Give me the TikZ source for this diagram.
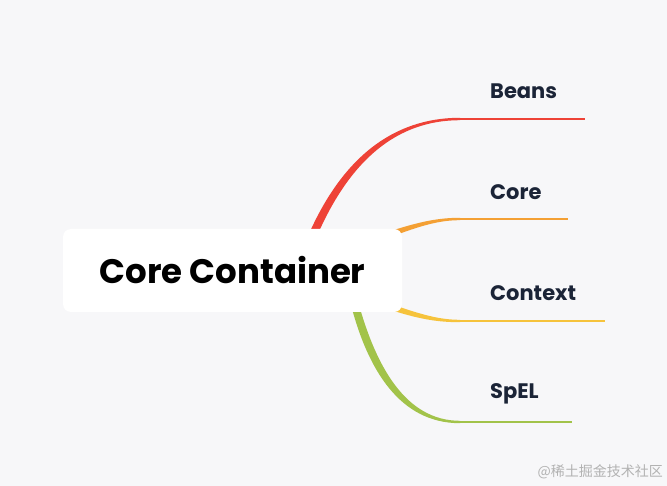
\documentclass[tikz,border=0pt]{standalone}
\usepackage{fontspec}
\newfontfamily\pop{Poppins}
\newfontfamily\cjk{Noto Sans CJK SC}
\definecolor{bg}{HTML}{F7F7F9}
\definecolor{cred}{HTML}{EE4237}
\definecolor{corange}{HTML}{F4A034}
\definecolor{cyellow}{HTML}{F6C33C}
\definecolor{cgreen}{HTML}{A2C34A}
\definecolor{labcol}{HTML}{1B2437}
\begin{document}
\begin{tikzpicture}[x=1pt,y=-1pt,
  lab/.style={anchor=west,inner sep=0pt,text=labcol,font=\pop\bfseries\fontsize{21}{24}\selectfont},
  hline/.style={line width=2.4pt}]
\useasboundingbox[fill=bg] (0,0) rectangle (667,486);
% branch end coordinates
\coordinate (b1) at (460,119);
\coordinate (b1e) at (585,119);
\coordinate (b2) at (460,219);
\coordinate (b2e) at (568,219);
\coordinate (b3) at (460,321);
\coordinate (b3e) at (605,321);
\coordinate (b4) at (460,422);
\coordinate (b4e) at (572,422);
% red
\fill[cred] (308,236) .. controls (342,158) and (393,117.8) .. (460,117.8)
  -- (460,120.2) .. controls (397,120.2) and (350,160) .. (317,236) -- cycle;
\draw[cred,hline] (b1) -- (b1e);
% orange
\fill[corange] (385,233) .. controls (420,221) and (440,217.8) .. (460,217.8)
  -- (460,220.2) .. controls (440,220.2) and (422,225) .. (388,238) -- cycle;
\draw[corange,hline] (b2) -- (b2e);
% yellow
\fill[cyellow] (385,308) .. controls (420,320) and (440,322.2) .. (460,322.2)
  -- (460,319.8) .. controls (440,319.8) and (422,315) .. (388,303) -- cycle;
\draw[cyellow,hline] (b3) -- (b3e);
% green
\fill[cgreen] (351,305) .. controls (368,370) and (400,423.2) .. (460,423.2)
  -- (460,420.8) .. controls (405,420.8) and (376,365) .. (359,305) -- cycle;
\draw[cgreen,hline] (b4) -- (b4e);
% central node
\node[fill=white,rounded corners=8pt,minimum width=339pt,minimum height=83pt,inner sep=0pt,
  font=\pop\bfseries\fontsize{34}{40}\selectfont] (core) at (232.5,270.5) {Core Container};
% labels
\node[lab] (beans) at (490,91) {Beans};
\node[lab] (corel) at (490,192) {Core};
\node[lab] (ctx) at (490,293) {Context};
\node[lab] (spel) at (490,394) {SpEL};
% watermark
\node[anchor=east,inner sep=0pt,text=black!30,font=\cjk\fontsize{14}{16}\selectfont] (wm) at (663,472) {@稀土掘金技术社区};
\end{tikzpicture}
\end{document}
